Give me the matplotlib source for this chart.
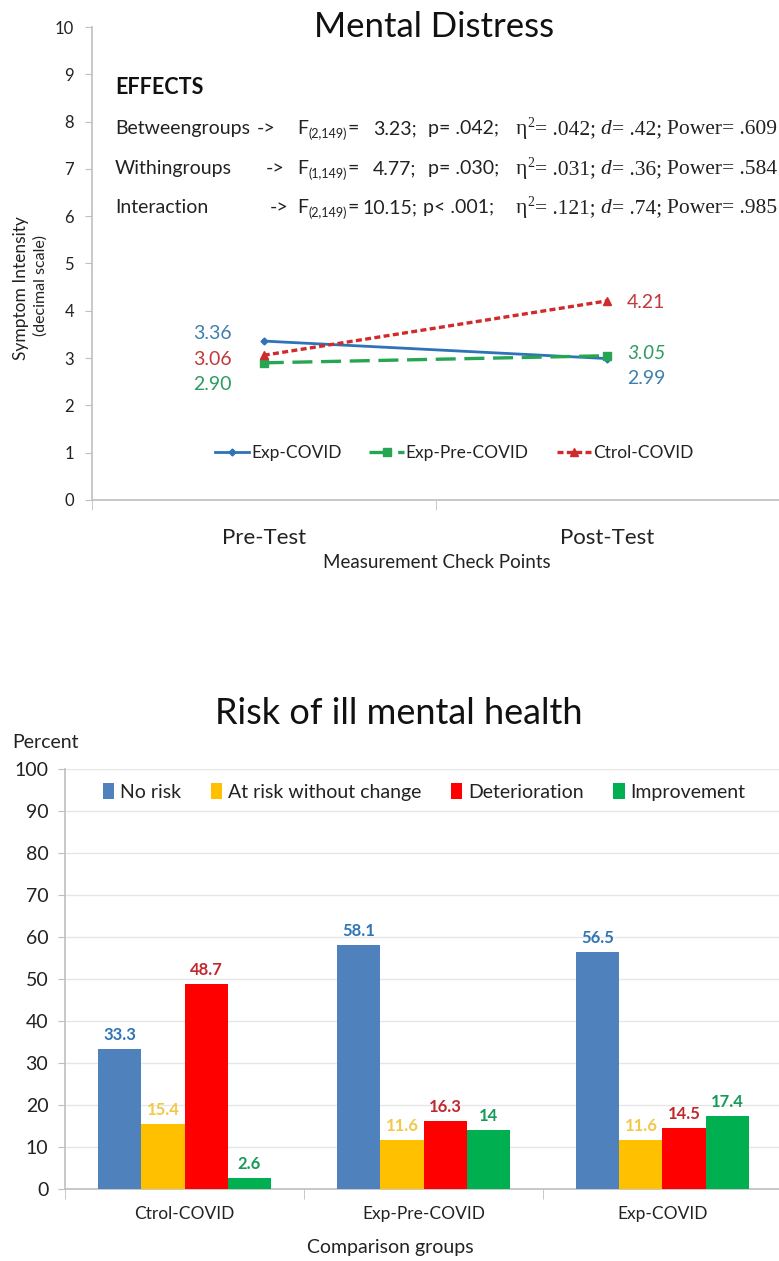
import matplotlib
matplotlib.use("Agg")
import matplotlib.pyplot as plt

# ---------------- data ----------------
time_points = ["Pre-Test", "Post-Test"]
exp_covid = [3.36, 2.99]
exp_pre_covid = [2.90, 3.05]
ctrol_covid = [3.06, 4.21]
line_series = ["Exp-COVID", "Exp-Pre-COVID", "Ctrol-COVID"]

effect_names = ["Betweengroups", "Withingroups", "Interaction"]
effect_df = ["(2,149)", "(1,149)", "(2,149)"]
effect_F = ["3.23;", "4.77;", "10.15;"]
effect_p = ["p= .042;", "p= .030;", "p< .001;"]
effect_eta = [".042;", ".031;", ".121;"]
effect_d = [".42;", ".36;", ".74;"]
effect_power = [".609", ".584", ".985"]

groups = ["Ctrol-COVID", "Exp-Pre-COVID", "Exp-COVID"]
risk_categories = ["No risk", "At risk without change", "Deterioration", "Improvement"]
no_risk = [33.3, 58.1, 56.5]
at_risk = [15.4, 11.6, 11.6]
deterioration = [48.7, 16.3, 14.5]
improvement = [2.6, 14, 17.4]
bar_labels = [["33.3", "58.1", "56.5"], ["15.4", "11.6", "11.6"],
              ["48.7", "16.3", "14.5"], ["2.6", "14", "17.4"]]

# ---------------- setup ----------------
W, H = 779, 1261
SANS = ["Lato", "DejaVu Sans"]
SERIF = ["Liberation Serif", "DejaVu Serif"]
plt.rcParams["font.family"] = SANS
fig = plt.figure(figsize=(W / 100, H / 100), dpi=100)
fig.patch.set_facecolor("white")
renderer = fig.canvas.get_renderer()


def fx(x):
    return x / W


def fy(y):
    return 1 - y / H


def ftext(x, y, s, size=12, **kw):
    kw.setdefault("va", "center")
    kw.setdefault("ha", "left")
    return fig.text(fx(x), fy(y), s, fontsize=size, **kw)


AX_GRAY = "#BFBFBF"
TXT = "#222222"

# ================= TOP CHART =================
ax1 = fig.add_axes([fx(92), fy(500), (W - 92) / W, (500 - 27) / H])
xs = list(range(len(time_points)))
c_blue, c_green, c_red = "#2E72B8", "#26A552", "#D02A2A"
ax1.plot(xs, exp_covid, color=c_blue, lw=2.0, marker="D", ms=3.5, label=line_series[0], zorder=3)
ax1.plot(xs, exp_pre_covid, color=c_green, lw=2.4, ls=(0, (6, 2.6)), marker="s", ms=5.5,
         label=line_series[1], zorder=4)
ax1.plot(xs, ctrol_covid, color=c_red, lw=2.4, ls=(0, (1.8, 1.0)), marker="^", ms=6,
         label=line_series[2], zorder=5)
ax1.set_xlim(-0.5, 1.5)
ax1.set_ylim(0, 10)
ax1.set_yticks(range(0, 11))
ax1.set_xticks(xs)
ax1.set_xticklabels(time_points, fontsize=16, color=TXT)
ax1.set_xticks([-0.5, 0.5, 1.5], minor=True)
ax1.tick_params(axis="x", which="major", length=0, pad=20)
ax1.tick_params(axis="x", which="minor", length=7, color=AX_GRAY, direction="out")
ax1.tick_params(axis="y", length=5, color=AX_GRAY, labelsize=12, labelcolor=TXT, pad=8)
for s in ["top", "right"]:
    ax1.spines[s].set_visible(False)
for s in ["left", "bottom"]:
    ax1.spines[s].set_color(AX_GRAY)
    ax1.spines[s].set_linewidth(1.2)
ax1.set_facecolor("none")

# value labels (dx, dy in pixels, dy positive = up)
lab_specs = [
    (0, exp_covid[0], c_blue, (-51, 8), "normal"),
    (0, ctrol_covid[0], c_red, (-51, -4), "normal"),
    (0, exp_pre_covid[0], c_green, (-51, -22), "normal"),
    (1, ctrol_covid[1], c_red, (39, -2), "normal"),
    (1, exp_pre_covid[1], c_green, (39, 2), "italic"),
    (1, exp_covid[1], c_blue, (39, -20), "normal"),
]
lab_colors = {c_blue: "#3F7FAE", c_red: "#C0393B", c_green: "#2F9A62"}
for x, y, c, off, st in lab_specs:
    ax1.annotate("%.2f" % y, (x, y), xytext=off, textcoords="offset pixels",
                 ha="center", va="center", fontsize=14, color=lab_colors[c], style=st)

leg1 = ax1.legend(loc="center", bbox_to_anchor=(0.527, 0.099), ncol=3, frameon=False,
                  fontsize=12.5, handlelength=2.0, handletextpad=0.1, columnspacing=1.6)
for t in leg1.get_texts():
    t.set_color(TXT)

ftext(437, 562, "Measurement Check Points", size=13.5, ha="center", color=TXT)
ftext(21, 288, "Symptom Intensity", size=12.5, ha="center", rotation=90, color=TXT)
ftext(41, 286, "(decimal scale)", size=11.5, ha="center", rotation=90, color=TXT)
ftext(434, 27, "Mental Distress", size=25, ha="center", color="#111111")

# effects block
ftext(115, 87, "EFFECTS", size=15.5, weight="bold", color="#111111")
row_base = [134, 174, 213]
arrow_x = [257, 266, 270]
val_x = [373, 373, 362]
p_x = [428, 428, 423]
SS = 14       # sans size
RS = 15.5     # serif size


def wid(t):
    return t.get_window_extent(renderer).width


for i in range(3):
    b = row_base[i]
    kw = dict(va="baseline", color=TXT)
    ftext(115, b, effect_names[i], size=SS, **kw)
    ftext(arrow_x[i], b, "->", size=SS, **kw)
    t = ftext(297, b, "F", size=SS, **kw)
    x = 297 + wid(t) + 0.5
    t = ftext(x, b + 4, effect_df[i], size=9, **kw)
    x += wid(t) + 0.5
    ftext(x, b, "=", size=SS, **kw)
    ftext(val_x[i], b, effect_F[i], size=SS, **kw)
    ftext(p_x[i], b, effect_p[i], size=SS, **kw)
    # serif part, right-aligned to the figure edge
    parts = [("\u03b7", RS, 0, "normal", 0.5), ("2", 10, -7, "normal", 0.5),
             ("= " + effect_eta[i], RS, 0, "normal", 5),
             ("d", RS, 0, "italic", 0.5), ("= " + effect_d[i], RS, 0, "normal", 5),
             ("Power= " + effect_power[i], RS, 0, "normal", 0)]
    objs = []
    for s, sz, dy, st, gap in parts:
        t = ftext(0, b + dy, s, size=sz, family=SERIF, style=st, **kw)
        objs.append((t, wid(t), gap))
    total = sum(w + g for _, w, g in objs)
    x = 777 - total
    for t, w, g in objs:
        t.set_x(fx(x))
        x += w + g

# ================= BOTTOM CHART =================
ax2 = fig.add_axes([fx(65), fy(1189), (W - 65) / W, (1189 - 769) / H])
bar_series = [no_risk, at_risk, deterioration, improvement]
bar_colors = ["#4F81BD", "#FFC000", "#FF0000", "#00B050"]
val_colors = ["#2E75B6", "#F2C84B", "#C0282D", "#17995A"]
bw = 0.18
offsets = [-1.5 * bw, -0.5 * bw, 0.5 * bw, 1.5 * bw]
gx = list(range(len(groups)))
for k, (vals, col) in enumerate(zip(bar_series, bar_colors)):
    pos = [g + offsets[k] for g in gx]
    ax2.bar(pos, vals, width=bw, color=col, label=risk_categories[k], zorder=3)
    for p, v, s in zip(pos, vals, bar_labels[k]):
        ax2.annotate(s, (p, v), xytext=(0, 14), textcoords="offset pixels",
                     ha="center", va="center", fontsize=12, weight="bold",
                     color=val_colors[k])
ax2.set_xlim(-0.5, -0.5 + (W - 65) / 239.0)
ax2.set_ylim(0, 100)
ax2.set_yticks(range(0, 101, 10))
ax2.yaxis.grid(True, color="#E6E6E6", lw=1.0, zorder=0)
ax2.set_axisbelow(True)
ax2.set_xticks(gx)
ax2.set_xticklabels(groups, fontsize=12.5, color=TXT)
ax2.set_xticks([-0.5, 0.5, 1.5], minor=True)
ax2.tick_params(axis="x", which="major", length=0, pad=12)
ax2.tick_params(axis="x", which="minor", length=7, color=AX_GRAY)
ax2.tick_params(axis="y", length=5, color=AX_GRAY, labelsize=14, labelcolor=TXT, pad=7)
for s in ["top", "right"]:
    ax2.spines[s].set_visible(False)
for s in ["left", "bottom"]:
    ax2.spines[s].set_color(AX_GRAY)
    ax2.spines[s].set_linewidth(1.2)

leg2 = ax2.legend(loc="center", bbox_to_anchor=(0.503, 0.945), ncol=4, frameon=False,
                  fontsize=14, handlelength=0.6, handleheight=0.9, handletextpad=0.3,
                  columnspacing=1.5)
for t in leg2.get_texts():
    t.set_color(TXT)

ftext(399, 713, "Risk of ill mental health", size=26, ha="center", color="#111111")
ftext(12, 742, "Percent", size=14, color=TXT)
ftext(390, 1248, "Comparison groups", size=14, ha="center", color=TXT)

fig.savefig("out.png", dpi=100, facecolor="white")
